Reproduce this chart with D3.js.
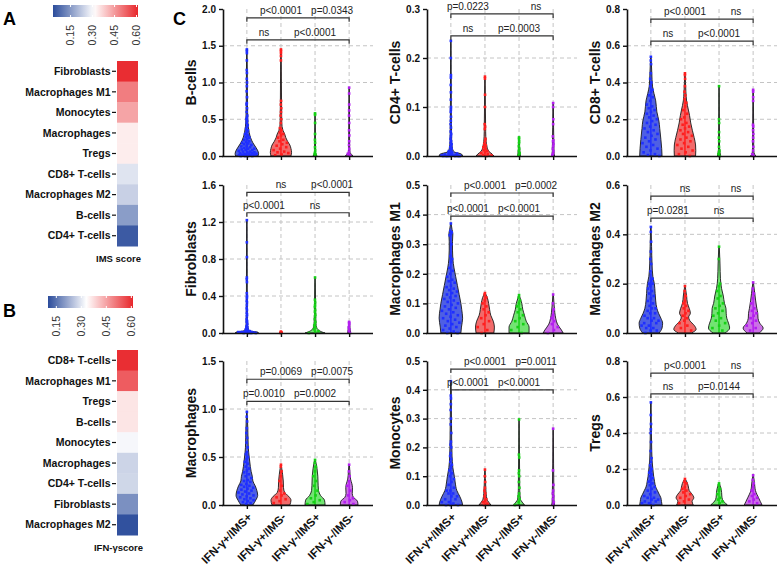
<!DOCTYPE html>
<html><head><meta charset="utf-8">
<script src="https://cdn.jsdelivr.net/npm/d3@7"></script>
<style>
body{margin:0;background:#fff;}
svg{display:block;font-family:"Liberation Sans",Arial,Helvetica,sans-serif;}
</style></head><body>
<svg id="chart" width="779" height="566"></svg>
<script>
// ================= DATA =================
const groups = ["IFN-γ+/IMS+","IFN-γ+/IMS-","IFN-γ-/IMS+","IFN-γ-/IMS-"];

// Panel A / B heatmaps
const imsCells  = ["Fibroblasts","Macrophages M1","Monocytes","Macrophages","Tregs","CD8+ T-cells","Macrophages M2","B-cells","CD4+ T-cells"];
const imsScores = [0.60,0.49,0.436,0.335,0.335,0.268,0.237,0.156,0.052];
const ifnCells  = ["CD8+ T-cells","Macrophages M1","Tregs","B-cells","Monocytes","Macrophages","CD4+ T-cells","Fibroblasts","Macrophages M2"];
const ifnScores = [0.60,0.54,0.364,0.364,0.32,0.275,0.278,0.187,0.107];
const colorbarTicks = [0.15,0.30,0.45,0.60];

// Panel C violins
const panelTitles = ["B-cells","CD4+ T-cells","CD8+ T-cells","Fibroblasts","Macrophages M1","Macrophages M2","Macrophages","Monocytes","Tregs"];
const panelMax  = [2.0,0.3,0.8,1.6,0.5,0.6,1.5,0.5,0.8];
const panelStep = [0.5,0.1,0.2,0.4,0.1,0.2,0.5,0.1,0.2];
const bracketLevels = [[1.88,1.58],[0.29,0.245],[0.745,0.625],[1.52,1.30],[0.473,0.395],[0.555,0.466],[1.31,1.08],[0.472,0.40],[0.733,0.617]];
const upperP = [["p<0.0001","p=0.0343"],["p=0.0223","ns"],["p<0.0001","ns"],["ns","p<0.0001"],["p<0.0001","p=0.0002"],["ns","ns"],["p=0.0069","p=0.0075"],["p<0.0001","p=0.0011"],["p<0.0001","ns"]];
const lowerP = [["ns","p<0.0001"],["ns","p=0.0003"],["ns","p<0.0001"],["p<0.0001","ns"],["p<0.0001","p<0.0001"],["p=0.0281","ns"],["p=0.0010","p=0.0002"],["p<0.0001","p<0.0001"],["ns","p=0.0144"]];
const upperPos = [[1,2.5],[0.5,2.5],[1,2.5],[1,2.5],[1,2.5],[1,2.5],[1,2.5],[1,2.5],[1,2.5]];
const lowerPos = [[0.5,2],[0.5,2],[0.5,2],[0.5,2],[0.5,2],[0.5,2],[0.5,2],[0.5,2],[0.5,2]];

// relative density profiles [value, density] per group
const bcellsDensity = [
 [[0,0.95],[0.03,1],[0.08,0.9],[0.12,0.75],[0.18,0.5],[0.25,0.3],[0.32,0.18],[0.4,0.1],[0.5,0.06],[0.7,0.03],[1.0,0.02],[1.45,0]],
 [[0,0.85],[0.05,0.9],[0.1,0.85],[0.15,0.75],[0.2,0.55],[0.25,0.4],[0.3,0.3],[0.35,0.15],[0.45,0.05],[0.7,0.03],[1.45,0]],
 [[0,0.15],[0.02,0.08],[0.05,0.02],[0.58,0]],
 [[0,0.3],[0.02,0.2],[0.05,0.05],[0.1,0.02],[0.93,0]]];
const bcellsPoints = [
 [1.45,1.43,1.4,1.3,1.17,1.13,1.05,1.0,0.95,0.88,0.8,0.72,0.7,0.65,0.6,0.55,0.52,0.5,0.48,0.45,0.42,0.4,0.37,0.35,0.33,0.3,0.28,0.26,0.25,0.23,0.22,0.2,0.19,0.18,0.17,0.16,0.15,0.14,0.13,0.12,0.11,0.1,0.1,0.09,0.08,0.08,0.07,0.06,0.06,0.05,0.05,0.04,0.04,0.03,0.03,0.03,0.02,0.02,0.02,0.01,0.01,0.01,0.01,0,0,0,0],
 [1.45,1.43,1.4,1.36,1.3,0.75,0.7,0.65,0.6,0.55,0.5,0.45,0.38,0.35,0.32,0.3,0.28,0.25,0.22,0.2,0.18,0.16,0.14,0.12,0.1,0.08,0.06,0.05,0.04,0.02,0.01],
 [0.58,0.56,0.45,0.3,0.22,0.18,0.12,0.08,0.05,0.03,0.02,0.01],
 [0.93,0.85,0.7,0.62,0.55,0.45,0.35,0.28,0.2,0.15,0.1,0.06,0.03,0.01]];

const cd4Density = [
 [[0,1],[0.004,0.9],[0.008,0.3],[0.015,0.12],[0.03,0.05],[0.08,0.02],[0.235,0]],
 [[0,0.75],[0.004,0.6],[0.01,0.3],[0.02,0.15],[0.03,0.08],[0.05,0.04],[0.162,0]],
 [[0,0.1],[0.01,0.05],[0.038,0]],
 [[0,0.1],[0.01,0.05],[0.108,0]]];
const cd4Points = [
 [0.235,0.2,0.165,0.16,0.145,0.13,0.115,0.1,0.095,0.09,0.08,0.072,0.065,0.058,0.05,0.045,0.04,0.035,0.03,0.027,0.024,0.02,0.018,0.015,0.012,0.01,0.008,0.006,0.005,0.004,0.003,0.002,0.002,0.001,0.001,0,0,0,0,0,0,0],
 [0.162,0.158,0.125,0.1,0.065,0.06,0.055,0.035,0.03,0.025,0.022,0.02,0.018,0.015,0.012,0.01,0.008,0.006,0.004,0.002,0.001,0],
 [0.038,0.035,0.03,0.026,0.02,0.015,0.01,0.006,0.003,0.001],
 [0.108,0.1,0.075,0.065,0.04,0.032,0.03,0.025,0.02,0.015,0.01,0.005,0.002]];

const cd8Density = [
 [[0,0.95],[0.04,0.92],[0.09,0.85],[0.15,0.75],[0.19,0.68],[0.24,0.5],[0.3,0.4],[0.34,0.25],[0.38,0.12],[0.45,0.06],[0.54,0]],
 [[0,0.9],[0.03,0.92],[0.06,0.9],[0.1,0.78],[0.14,0.62],[0.18,0.48],[0.22,0.38],[0.25,0.28],[0.3,0.12],[0.35,0.06],[0.45,0]],
 [[0,0.12],[0.02,0.06],[0.05,0.02],[0.38,0]],
 [[0,0.2],[0.01,0.1],[0.03,0.03],[0.36,0]]];
const cd8Points = [
 [0.54,0.52,0.5,0.45,0.42,0.4,0.38,0.36,0.35,0.33,0.32,0.3,0.28,0.27,0.26,0.25,0.24,0.23,0.22,0.21,0.2,0.19,0.18,0.17,0.16,0.15,0.14,0.13,0.12,0.11,0.1,0.09,0.08,0.07,0.06,0.05,0.04,0.03,0.02,0.01,0.005,0],
 [0.45,0.44,0.42,0.38,0.35,0.33,0.31,0.29,0.27,0.25,0.23,0.21,0.2,0.18,0.17,0.16,0.15,0.14,0.13,0.12,0.11,0.1,0.09,0.08,0.07,0.06,0.05,0.04,0.03,0.02,0.01,0],
 [0.38,0.2,0.18,0.13,0.1,0.08,0.05,0.03,0.02,0.01,0],
 [0.36,0.35,0.32,0.3,0.17,0.16,0.14,0.12,0.1,0.08,0.05,0.03,0.01,0]];

const fibroDensity = [
 [[0,1],[0.01,0.9],[0.02,0.35],[0.04,0.12],[0.08,0.05],[0.2,0.02],[1.22,0]],
 [[0,0.15],[0.01,0.05],[0.015,0]],
 [[0,0.85],[0.01,0.6],[0.03,0.3],[0.06,0.12],[0.1,0.06],[0.2,0.03],[0.35,0.02],[0.6,0]],
 [[0,0.1],[0.12,0]]];
const fibroPoints = [
 [1.22,0.98,0.82,0.6,0.58,0.55,0.43,0.4,0.38,0.35,0.33,0.3,0.27,0.25,0.22,0.2,0.18,0.15,0.13,0.12,0.1,0.08,0.07,0.06,0.05,0.04,0.03,0.02,0.02,0.01,0.01,0.01,0.01,0.01,0.01,0.01,0.005,0.005,0.005,0,0,0,0],
 [0.015,0.01,0.005,0],
 [0.6,0.36,0.33,0.3,0.28,0.25,0.23,0.2,0.18,0.15,0.12,0.1,0.08,0.06,0.04,0.02,0.01,0],
 [0.12,0.11,0.1,0.08,0.06,0.04,0.02,0]];

const m1Density = [
 [[0,0.85],[0.02,0.9],[0.05,1],[0.08,0.92],[0.1,0.85],[0.13,0.7],[0.16,0.55],[0.19,0.4],[0.22,0.25],[0.25,0.15],[0.28,0.12],[0.31,0.12],[0.335,0.15],[0.35,0.08],[0.37,0]],
 [[0,0.75],[0.02,0.8],[0.04,0.7],[0.06,0.48],[0.08,0.38],[0.1,0.3],[0.12,0.18],[0.135,0]],
 [[0,0.85],[0.02,0.85],[0.04,0.6],[0.06,0.45],[0.08,0.3],[0.1,0.22],[0.115,0.1],[0.128,0]],
 [[0,0.85],[0.01,0.7],[0.03,0.35],[0.05,0.2],[0.07,0.12],[0.1,0.05],[0.13,0]]];
const m1Points = [
 [0.37,0.345,0.34,0.335,0.33,0.3,0.26,0.25,0.24,0.22,0.21,0.2,0.19,0.18,0.175,0.17,0.16,0.155,0.15,0.145,0.14,0.135,0.13,0.125,0.12,0.115,0.11,0.105,0.1,0.095,0.09,0.085,0.08,0.075,0.07,0.065,0.06,0.055,0.05,0.045,0.04,0.035,0.03,0.025,0.02,0.015,0.01,0.005,0,0],
 [0.135,0.13,0.12,0.11,0.1,0.09,0.08,0.07,0.06,0.05,0.04,0.03,0.02,0.01,0],
 [0.128,0.12,0.11,0.1,0.09,0.08,0.07,0.06,0.05,0.04,0.03,0.02,0.01,0],
 [0.13,0.1,0.08,0.06,0.05,0.04,0.03,0.02,0.01,0]];

const m2Density = [
 [[0,0.7],[0.02,0.95],[0.04,1],[0.06,0.85],[0.08,0.65],[0.1,0.5],[0.13,0.4],[0.16,0.35],[0.2,0.28],[0.23,0.15],[0.28,0.08],[0.35,0.04],[0.43,0]],
 [[0,0.55],[0.015,0.95],[0.03,0.8],[0.05,0.4],[0.065,0.3],[0.08,0.45],[0.1,0.35],[0.12,0.2],[0.15,0.12],[0.19,0]],
 [[0,0.5],[0.02,0.9],[0.04,0.8],[0.06,0.65],[0.08,0.6],[0.1,0.58],[0.12,0.45],[0.15,0.35],[0.18,0.2],[0.22,0.1],[0.28,0.06],[0.35,0]],
 [[0,0.5],[0.02,0.85],[0.04,0.55],[0.06,0.4],[0.08,0.38],[0.1,0.3],[0.13,0.2],[0.16,0.12],[0.205,0]]];
const m2Points = [
 [0.43,0.41,0.37,0.33,0.3,0.28,0.25,0.22,0.21,0.2,0.2,0.19,0.18,0.17,0.16,0.15,0.14,0.13,0.12,0.11,0.1,0.1,0.09,0.08,0.08,0.07,0.06,0.06,0.05,0.05,0.04,0.04,0.03,0.03,0.02,0.02,0.01,0.01,0],
 [0.19,0.17,0.15,0.13,0.12,0.11,0.1,0.09,0.08,0.07,0.06,0.05,0.04,0.03,0.02,0.01],
 [0.35,0.3,0.2,0.19,0.17,0.15,0.14,0.12,0.11,0.1,0.09,0.08,0.07,0.06,0.05,0.04,0.03,0.02,0.01],
 [0.205,0.18,0.16,0.14,0.12,0.1,0.09,0.08,0.07,0.06,0.05,0.04,0.03,0.02,0.01]];

const macroDensity = [
 [[0,0.5],[0.05,0.75],[0.1,0.92],[0.15,0.85],[0.2,0.7],[0.25,0.5],[0.3,0.45],[0.35,0.35],[0.4,0.28],[0.5,0.18],[0.6,0.1],[0.8,0.06],[0.97,0]],
 [[0,0.75],[0.05,0.85],[0.09,0.65],[0.13,0.3],[0.18,0.2],[0.25,0.18],[0.32,0.12],[0.38,0.05],[0.42,0]],
 [[0,0.85],[0.05,0.8],[0.1,0.45],[0.15,0.28],[0.2,0.25],[0.3,0.22],[0.38,0.15],[0.43,0.08],[0.47,0]],
 [[0,0.75],[0.04,0.7],[0.08,0.35],[0.12,0.25],[0.18,0.27],[0.22,0.22],[0.27,0.1],[0.35,0.04],[0.42,0]]];
const macroPoints = [
 [0.97,0.92,0.87,0.8,0.75,0.7,0.65,0.6,0.55,0.53,0.5,0.48,0.45,0.43,0.4,0.38,0.36,0.34,0.32,0.3,0.28,0.26,0.25,0.24,0.22,0.21,0.2,0.19,0.18,0.17,0.16,0.15,0.14,0.13,0.12,0.11,0.1,0.09,0.08,0.07,0.06,0.05,0.04,0.03,0.02,0.01],
 [0.42,0.4,0.35,0.3,0.25,0.2,0.15,0.12,0.1,0.08,0.06,0.04,0.02],
 [0.47,0.44,0.4,0.35,0.3,0.25,0.2,0.15,0.1,0.07,0.05,0.03,0.01],
 [0.42,0.35,0.3,0.25,0.2,0.15,0.1,0.07,0.05,0.03,0.01]];

const monoDensity = [
 [[0,1],[0.01,0.95],[0.03,0.75],[0.05,0.5],[0.08,0.35],[0.1,0.28],[0.13,0.15],[0.17,0.08],[0.22,0.05],[0.3,0.03],[0.43,0]],
 [[0,0.5],[0.01,0.3],[0.02,0.15],[0.04,0.08],[0.06,0.05],[0.123,0]],
 [[0,0.45],[0.01,0.25],[0.02,0.1],[0.05,0.04],[0.297,0]],
 [[0,0.1],[0.02,0.05],[0.265,0]]];
const monoPoints = [
 [0.43,0.38,0.37,0.35,0.33,0.3,0.28,0.25,0.22,0.21,0.2,0.18,0.17,0.16,0.15,0.14,0.13,0.12,0.11,0.1,0.09,0.08,0.07,0.06,0.05,0.05,0.04,0.04,0.03,0.03,0.02,0.02,0.01,0.01,0.005,0,0,0],
 [0.123,0.1,0.08,0.06,0.05,0.04,0.03,0.02,0.015,0.01,0.005,0],
 [0.297,0.175,0.165,0.12,0.11,0.1,0.08,0.06,0.04,0.03,0.02,0.01,0],
 [0.265,0.12,0.07,0.05,0.04,0.03,0.02,0.01,0]];

const tregDensity = [
 [[0,0.95],[0.02,0.9],[0.04,0.85],[0.06,0.7],[0.08,0.55],[0.1,0.4],[0.13,0.3],[0.16,0.22],[0.2,0.15],[0.25,0.08],[0.35,0.04],[0.57,0]],
 [[0,0.7],[0.02,0.6],[0.04,0.75],[0.06,0.6],[0.08,0.35],[0.1,0.28],[0.12,0.2],[0.145,0]],
 [[0,0.7],[0.015,0.45],[0.03,0.28],[0.05,0.22],[0.07,0.2],[0.09,0.15],[0.11,0.06],[0.12,0]],
 [[0,0.75],[0.02,0.6],[0.04,0.45],[0.06,0.3],[0.08,0.18],[0.1,0.13],[0.13,0.08],[0.165,0]]];
const tregPoints = [
 [0.57,0.5,0.45,0.42,0.4,0.35,0.3,0.26,0.24,0.22,0.2,0.19,0.18,0.17,0.16,0.15,0.14,0.13,0.12,0.11,0.1,0.09,0.08,0.07,0.06,0.05,0.04,0.04,0.03,0.03,0.02,0.02,0.01,0.01,0],
 [0.145,0.13,0.12,0.1,0.09,0.08,0.07,0.06,0.05,0.04,0.03,0.02,0.01],
 [0.12,0.11,0.09,0.08,0.06,0.04,0.03,0.02,0.01],
 [0.165,0.14,0.12,0.1,0.08,0.06,0.05,0.04,0.03,0.02,0.01]];

const panelDensities = [bcellsDensity,cd4Density,cd8Density,fibroDensity,m1Density,m2Density,macroDensity,monoDensity,tregDensity];
const panelPoints = [bcellsPoints,cd4Points,cd8Points,fibroPoints,m1Points,m2Points,macroPoints,monoPoints,tregPoints];

// ================= STYLE / LAYOUT =================
const svg = d3.select("#chart");
const FONT = '"Liberation Sans",Arial,Helvetica,sans-serif';
const violinFill = ["#4e5fe4","#f26a6a","#72e472","#cb70e6"];
const pointColor = ["#1f2fff","#ff1f1f","#16d016","#b31ef0"];
const heatColors = ["#2b4c9b","#ffffff","#e8262b"];

// ---- Panel labels ----
[["A",3,25],["B",3,317],["C",173,25]].forEach(([t,x,y])=>{
  svg.append("text").attr("x",x).attr("y",y).attr("font-size",18).attr("font-weight","bold").text(t);
});

// ---- Heatmaps ----
function heatmap(cfg){
  const color = d3.scaleLinear().domain(cfg.cdom).range(heatColors).clamp(true);
  const cx = d3.scaleLinear().domain(cfg.bdom).range(cfg.brange);
  const gid = "grad"+cfg.id;
  const grad = svg.append("defs").append("linearGradient").attr("id",gid).attr("x1","0%").attr("x2","100%");
  d3.range(0,1.0001,0.05).forEach(t=>{
    const v = cfg.bdom[0]+t*(cfg.bdom[1]-cfg.bdom[0]);
    grad.append("stop").attr("offset",(t*100)+"%").attr("stop-color",color(v));
  });
  svg.append("rect").attr("x",cfg.brange[0]).attr("y",cfg.by).attr("width",cfg.brange[1]-cfg.brange[0]).attr("height",12).attr("fill",`url(#${gid})`);
  colorbarTicks.forEach(t=>{
    svg.append("line").attr("x1",cx(t)).attr("x2",cx(t)).attr("y1",cfg.by).attr("y2",cfg.by+2).attr("stroke","#fff").attr("stroke-width",1);
    svg.append("line").attr("x1",cx(t)).attr("x2",cx(t)).attr("y1",cfg.by+10).attr("y2",cfg.by+12).attr("stroke","#fff").attr("stroke-width",1);
    svg.append("text").attr("transform",`translate(${cx(t)},${cfg.by+20}) rotate(-90)`)
      .attr("text-anchor","end").attr("dy","0.35em").attr("font-size",10.5).attr("fill","#333")
      .text(d3.format(".2f")(t));
  });
  const y = d3.scaleBand().domain(cfg.cells).range([cfg.top,cfg.top+185]);
  svg.append("g").selectAll("rect").data(cfg.cells).join("rect")
    .attr("x",117).attr("width",21).attr("y",d=>y(d)).attr("height",y.bandwidth()+0.5)
    .attr("fill",(d,i)=>color(cfg.scores[i]));
  const lab = svg.append("g");
  cfg.cells.forEach(c=>{
    const yc = y(c)+y.bandwidth()/2;
    lab.append("line").attr("x1",112).attr("x2",116).attr("y1",yc).attr("y2",yc).attr("stroke","#111").attr("stroke-width",1.2);
    lab.append("text").attr("x",110.5).attr("y",yc).attr("dy","0.35em").attr("text-anchor","end")
      .attr("font-size",10.5).attr("font-weight","bold").attr("fill","#111").text(c);
  });
  svg.append("text").attr("x",118.5).attr("y",cfg.top+201).attr("text-anchor","middle")
    .attr("font-size",9.5).attr("font-weight","bold").attr("fill","#111").text(cfg.title);
}
heatmap({id:"A",cells:imsCells,scores:imsScores,cdom:[0.03,0.31,0.61],bdom:[0.03,0.61],brange:[53,138],by:5,top:61,title:"IMS score"});
heatmap({id:"B",cells:ifnCells,scores:ifnScores,cdom:[0.10,0.33,0.61],bdom:[0.10,0.61],brange:[48,133],by:296,top:350,title:"IFN-γscore"});

// ---- Violin panels ----
const rowTop = [9,185,361], rowBottom = [156,333,505];
const colAxis = [223,427,627];
const plotW = 150, maxHalf = 11.5;
const jit = i => ((i*0.6180339887)%1)*2-1;

panelTitles.forEach((title,p)=>{
  const r = Math.floor(p/3), c = p%3;
  const x0 = colAxis[c], top = rowTop[r], bot = rowBottom[r];
  const g = svg.append("g");
  const x = d3.scalePoint().domain(groups).range([x0,x0+plotW]).padding(0.7);
  const step = x.step();
  const y = d3.scaleLinear().domain([0,panelMax[p]]).range([bot,top]);
  const ticks = d3.range(0,panelMax[p]+panelStep[p]/2,panelStep[p]);
  const w = d3.scaleLinear().domain([0,1]).range([0,maxHalf]);

  // grid
  g.selectAll(".hg").data(ticks.slice(1,-1)).join("line")
    .attr("x1",x0).attr("x2",x0+plotW).attr("y1",d=>y(d)).attr("y2",d=>y(d))
    .attr("stroke","#c4c4c4").attr("stroke-width",1).attr("stroke-dasharray","4,3");
  g.selectAll(".vg").data(groups).join("line")
    .attr("x1",d=>x(d)).attr("x2",d=>x(d)).attr("y1",y(panelMax[p])).attr("y2",bot)
    .attr("stroke","#c4c4c4").attr("stroke-width",1).attr("stroke-dasharray","4,3");

  // violins
  groups.forEach((grp,k)=>{
    const dens = panelDensities[p][k];
    const cx = x(grp);
    const hw = d3.scaleLinear().domain(dens.map(d=>d[0])).range(dens.map(d=>d[1])).clamp(true);
    const area = d3.area().curve(d3.curveMonotoneY)
      .y(d=>y(d[0])).x0(d=>cx-w(d[1])-0.25).x1(d=>cx+w(d[1])+0.25);
    g.append("path").attr("d",area(dens)).attr("fill",violinFill[k]).attr("stroke","none");
    const vmax = dens[dens.length-1][0];
    const topLine = d3.max(dens.filter(d=>d[1]>=0.12),d=>d[0]) || 0;
    g.append("line").attr("x1",cx).attr("x2",cx).attr("y1",bot).attr("y2",y(Math.min(vmax,topLine+0.02*panelMax[p])))
      .attr("stroke",pointColor[k]).attr("stroke-width",1.5);
    g.append("path").attr("d",area(dens)).attr("fill","none").attr("stroke","#1a1a1a").attr("stroke-width",0.9);
    g.selectAll(null).data(panelPoints[p][k]).join("rect")
      .attr("x",(v,i)=>cx+jit(i+1)*w(hw(v))*0.85-1.3)
      .attr("y",v=>y(v)-1.3).attr("width",2.6).attr("height",2.6)
      .attr("fill",pointColor[k]);
  });

  // axes
  const ya = g.append("g").attr("transform",`translate(${x0},0)`)
    .call(d3.axisLeft(y).tickValues(ticks).tickFormat(d3.format(".1f")).tickSize(4).tickSizeOuter(0));
  const xa = g.append("g").attr("transform",`translate(0,${bot})`)
    .call(d3.axisBottom(x).tickSize(4).tickSizeOuter(0).tickFormat(""));
  [ya,xa].forEach(a=>{
    a.select(".domain").attr("stroke","#111").attr("stroke-width",1.6);
    a.selectAll(".tick line").attr("stroke","#111").attr("stroke-width",1.4);
    a.selectAll("text").attr("font-family",FONT).attr("font-weight","bold").attr("font-size",10).attr("fill","#111");
  });
  xa.select(".domain").attr("d",`M${x0-1},0.5H${x0+plotW}`);
  if(r===2){
    groups.forEach(grp=>{
      g.append("text").attr("transform",`translate(${x(grp)+3},${bot+10}) rotate(-45)`)
        .attr("text-anchor","end").attr("dy","0.35em").attr("font-size",11.5).attr("font-weight","bold").attr("fill","#111").text(grp);
    });
  }
  // title
  g.append("text").attr("transform",`translate(${x0-32},${(top+bot)/2}) rotate(-90)`)
    .attr("text-anchor","middle").attr("dy","0.35em").attr("font-size",14).attr("font-weight","bold").attr("fill","#111").text(title);

  // brackets
  const xs = x(groups[0]), xe = x(groups[3]);
  [[bracketLevels[p][0],upperP[p],upperPos[p]],[bracketLevels[p][1],lowerP[p],lowerPos[p]]].forEach(([lv,labs,pos])=>{
    const yy = y(lv);
    g.append("path").attr("d",`M${xs},${yy+4}V${yy}H${xe}V${yy+4}`).attr("fill","none").attr("stroke","#333").attr("stroke-width",1.2);
    labs.forEach((t,i)=>{
      g.append("text").attr("x",xs+pos[i]*step).attr("y",yy-4).attr("text-anchor","middle")
        .attr("font-size",10).attr("fill","#222").text(t);
    });
  });
});
</script>
</body></html>
